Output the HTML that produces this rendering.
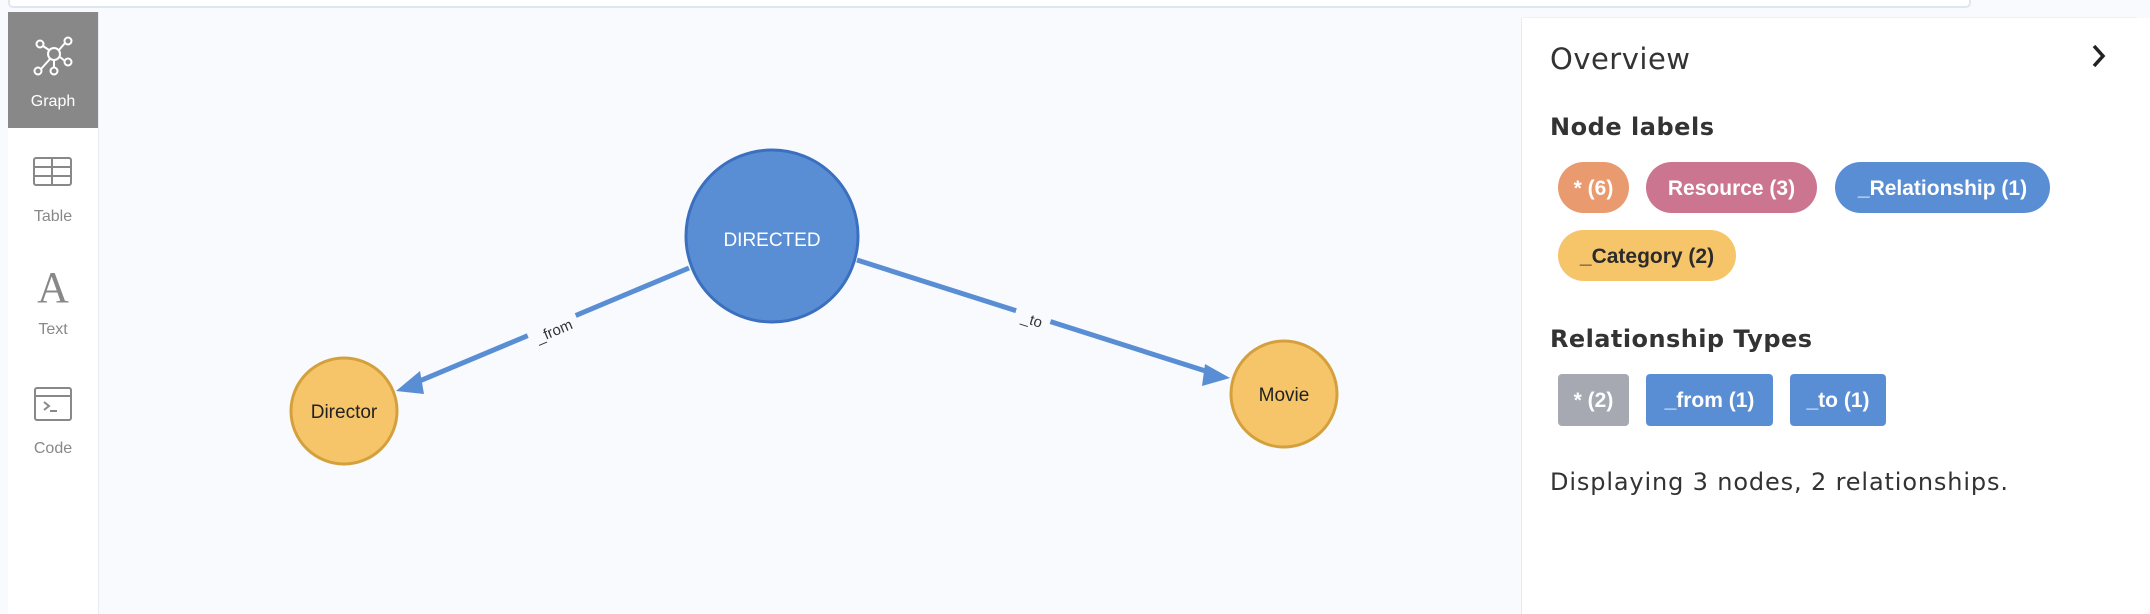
<!DOCTYPE html>
<html><head><meta charset="utf-8"><style>
html,body{margin:0;padding:0;width:2150px;height:614px;overflow:hidden;background:#f8fafd;font-family:"Liberation Sans",sans-serif}
</style></head><body>
<svg width="2150" height="614" xmlns="http://www.w3.org/2000/svg" style="position:absolute;left:0;top:0">
<rect width="2150" height="614" fill="#f8fafd"/>
<!-- top input -->
<rect x="9" y="-20" width="1961" height="27" rx="4" fill="#fff" stroke="#dfe6ee" stroke-width="2"/>
<!-- sidebar -->
<rect x="8" y="12" width="90" height="602" fill="#fff"/>
<line x1="98.5" y1="12" x2="98.5" y2="614" stroke="#e8ecf1" stroke-width="1"/>
<rect x="8" y="12" width="90" height="116" fill="#888"/>
<g stroke="#fff" stroke-width="2" fill="none">
<circle cx="54" cy="54" r="6"/>
<circle cx="40" cy="44" r="3.5"/><circle cx="68" cy="41" r="3.5"/>
<circle cx="68" cy="62" r="3.5"/><circle cx="38" cy="71" r="3.5"/><circle cx="54" cy="71" r="3.5"/>
<line x1="43" y1="46" x2="49" y2="50"/><line x1="65" y1="43" x2="59" y2="50"/>
<line x1="65" y1="61" x2="60" y2="57"/><line x1="41" y1="69" x2="50" y2="59"/><line x1="54" y1="67" x2="54" y2="60"/>
</g>
<text x="53" y="106" font-size="16" fill="#fff" text-anchor="middle">Graph</text>
<g stroke="#888" stroke-width="2" fill="none">
<rect x="34" y="158" width="37" height="27" rx="2"/>
<line x1="34" y1="167" x2="71" y2="167"/><line x1="34" y1="176" x2="71" y2="176"/><line x1="52" y1="158" x2="52" y2="185"/>
</g>
<text x="53" y="221" font-size="16" fill="#888" text-anchor="middle">Table</text>
<text x="53" y="302" font-size="44" fill="#888" text-anchor="middle" font-family="Liberation Serif,serif">A</text>
<text x="53" y="334" font-size="16" fill="#888" text-anchor="middle">Text</text>
<g stroke="#888" stroke-width="2" fill="none">
<rect x="35" y="388" width="36" height="32" rx="2"/><line x1="35" y1="396" x2="71" y2="396"/>
<polyline points="44,402 49,406 44,410"/><line x1="50" y1="411" x2="57" y2="411"/>
</g>
<text x="53" y="453" font-size="16" fill="#888" text-anchor="middle">Code</text>
<!-- edges -->
<line x1="689" y1="268" x2="410" y2="385" stroke="#5a8ed4" stroke-width="5"/>
<polygon points="396,391 420,371 424,394" fill="#5a8ed4"/>
<line x1="857" y1="260" x2="1215" y2="374" stroke="#5a8ed4" stroke-width="5"/>
<polygon points="1230,378 1205,364 1202,386" fill="#5a8ed4"/>
<g transform="translate(554,331) rotate(-22.8)"><rect x="-26" y="-10" width="52" height="20" fill="#f8fafd"/><text y="5" font-size="15" fill="#333" text-anchor="middle">_from</text></g>
<g transform="translate(1032,320) rotate(17.6)"><rect x="-18" y="-10" width="36" height="20" fill="#f8fafd"/><text y="5" font-size="15" fill="#333" text-anchor="middle">_to</text></g>
<!-- nodes -->
<circle cx="772" cy="236" r="86" fill="#5a8ed4" stroke="#3b6fc0" stroke-width="3"/>
<text x="772" y="246" font-size="19" fill="#fff" text-anchor="middle">DIRECTED</text>
<circle cx="344" cy="411" r="53" fill="#f6c56a" stroke="#d4a03c" stroke-width="3"/>
<text x="344" y="418" font-size="19" fill="#222" text-anchor="middle">Director</text>
<circle cx="1284" cy="394" r="53" fill="#f6c56a" stroke="#d4a03c" stroke-width="3"/>
<text x="1284" y="401" font-size="19" fill="#222" text-anchor="middle">Movie</text>
<!-- panel -->
<rect x="1522" y="18" width="628" height="600" fill="#fff"/>
<line x1="1521.5" y1="18" x2="1521.5" y2="614" stroke="#e6eaef"/>
<line x1="1522" y1="17.5" x2="2137" y2="17.5" stroke="#eef1f5"/>
<text x="1550" y="69" font-size="29" fill="#333" font-family="DejaVu Sans,sans-serif" font-weight="normal" textLength="140">Overview</text>
<polyline points="2094,46 2103,56 2094,66" stroke="#222" stroke-width="3.5" fill="none"/>
<text x="1550" y="135" font-size="24" font-weight="bold" fill="#333" font-family="DejaVu Sans,sans-serif" textLength="164">Node labels</text>
<g font-size="21" font-weight="bold" fill="#fff" text-anchor="middle">
<rect x="1558" y="162" width="71" height="51" rx="25.5" fill="#ea9a6f"/><text x="1593.5" y="195">* (6)</text>
<rect x="1646" y="162" width="171" height="51" rx="25.5" fill="#cc7590"/><text x="1731.5" y="195">Resource (3)</text>
<rect x="1835" y="162" width="215" height="51" rx="25.5" fill="#5a8ed4"/><text x="1942.5" y="195">_Relationship (1)</text>
<rect x="1558" y="230" width="178" height="51" rx="25.5" fill="#f6c56a"/><text x="1647" y="263" fill="#2b2b2b">_Category (2)</text>
</g>
<text x="1550" y="347" font-size="24" font-weight="bold" fill="#333" font-family="DejaVu Sans,sans-serif" textLength="262">Relationship Types</text>
<g font-size="21" font-weight="bold" fill="#fff" text-anchor="middle">
<rect x="1558" y="374" width="71" height="52" rx="4" fill="#a6a9b2"/><text x="1593.5" y="407">* (2)</text>
<rect x="1646" y="374" width="127" height="52" rx="4" fill="#5a8ed4"/><text x="1709.5" y="407">_from (1)</text>
<rect x="1790" y="374" width="96" height="52" rx="4" fill="#5a8ed4"/><text x="1838" y="407">_to (1)</text>
</g>
<text x="1550" y="490" font-size="24" fill="#333" font-family="DejaVu Sans,sans-serif" textLength="458">Displaying 3 nodes, 2 relationships.</text>
</svg>
</body></html>
